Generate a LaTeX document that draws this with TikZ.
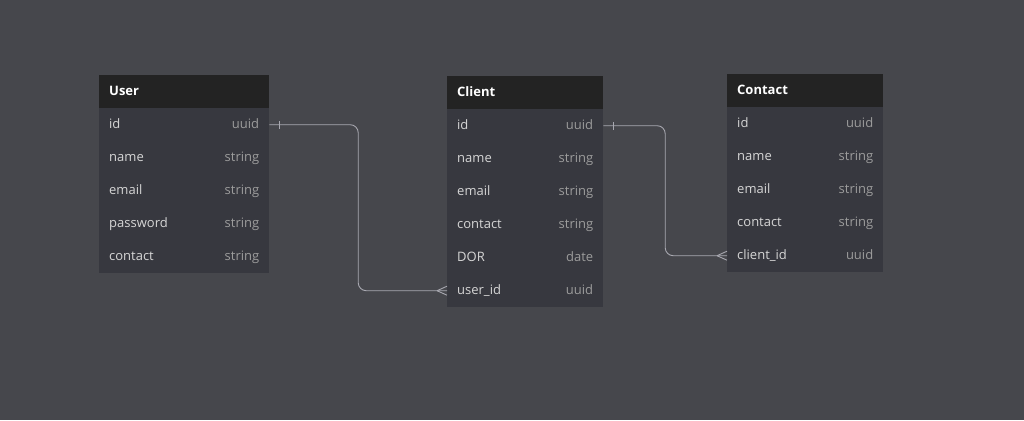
\documentclass[tikz,border=0pt]{standalone}
\usepackage{fontspec}
\setmainfont{Open Sans}
\usetikzlibrary{calc}
\definecolor{bgc}{HTML}{46474C}
\definecolor{hdrc}{HTML}{232323}
\definecolor{bodyc}{HTML}{37383F}
\definecolor{linec}{HTML}{A8A8B0}
\definecolor{fldc}{HTML}{D6D6D6}
\definecolor{typc}{HTML}{9C9C9C}
\tikzset{
  hdr/.style={fill=hdrc, draw=none, minimum height=33pt, inner sep=0pt},
  rowbox/.style={fill=bodyc, draw=none, minimum height=33pt, inner sep=0pt},
  hdrtext/.style={text=white, font=\fontsize{13}{15}\selectfont\bfseries, inner sep=0pt},
  fld/.style={text=fldc, font=\fontsize{13}{15}\selectfont, inner sep=0pt},
  typ/.style={text=typc, font=\fontsize{13}{15}\selectfont, inner sep=0pt},
  rel/.style={draw=linec, line width=0.9pt, rounded corners=8pt},
  mark1/.style={draw=linec, line width=0.9pt}
}
\newcommand\mktable[6]{%
  \node[hdr, minimum width=#4, anchor=north west] (#1) at (#2,#3) {};
  \node[hdrtext, anchor=base west] (#1-t) at ([xshift=10pt,yshift=-3.5pt]#1.west) {#5};
  \foreach \f/\t [count=\i] in {#6} {
    \node[rowbox, minimum width=#4, anchor=north west] (#1-\i) at (#2,{#3+33*\i}) {};
    \node[fld, anchor=base west] (#1-\i-f) at ([xshift=10pt,yshift=-3.5pt]#1-\i.west) {\f};
    \node[typ, anchor=base east] (#1-\i-t) at ([xshift=-10pt,yshift=-3.5pt]#1-\i.east) {\t};
  }
}
\begin{document}
\begin{tikzpicture}[x=1pt,y=-1pt]
\fill[bgc] (0,0) rectangle (1024,420);
\useasboundingbox (0,0) rectangle (1024,420);

\mktable{U}{99}{75}{170pt}{User}{id/uuid,name/string,email/string,password/string,contact/string}
\mktable{C}{447}{76}{156pt}{Client}{id/uuid,name/string,email/string,contact/string,DOR/date,user\_id/uuid}
\mktable{K}{727}{74}{156pt}{Contact}{id/uuid,name/string,email/string,contact/string,client\_id/uuid}

% User.id -> Client.user_id
\coordinate (m1) at ($(U-1.east)!0.5!(C-6.west)$);
\draw[rel] (U-1.east) -- (U-1.east -| m1) -- (m1 |- C-6.west) -- (C-6.west);
\draw[mark1] ([xshift=10pt,yshift=-4pt]U-1.east) -- ([xshift=10pt,yshift=4pt]U-1.east);
\draw[mark1] ([xshift=-10pt]C-6.west) -- ([yshift=-4.5pt]C-6.west);
\draw[mark1] ([xshift=-10pt]C-6.west) -- ([yshift=4.5pt]C-6.west);

% Client.id -> Contact.client_id
\coordinate (m2) at ($(C-1.east)!0.5!(K-5.west)$);
\draw[rel] (C-1.east) -- (C-1.east -| m2) -- (m2 |- K-5.west) -- (K-5.west);
\draw[mark1] ([xshift=10pt,yshift=-4pt]C-1.east) -- ([xshift=10pt,yshift=4pt]C-1.east);
\draw[mark1] ([xshift=-10pt]K-5.west) -- ([yshift=-4.5pt]K-5.west);
\draw[mark1] ([xshift=-10pt]K-5.west) -- ([yshift=4.5pt]K-5.west);
\end{tikzpicture}
\end{document}
